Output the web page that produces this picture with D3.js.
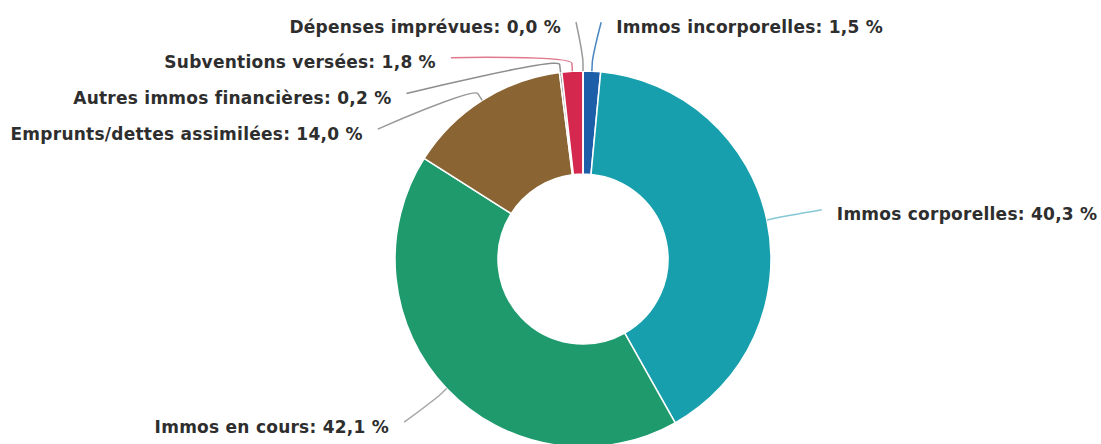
<!DOCTYPE html>
<html><head><meta charset="utf-8">
<script src="https://cdn.jsdelivr.net/npm/d3@7"></script>
<style>html,body{margin:0;padding:0;background:#fff;overflow:hidden}</style>
</head><body>
<svg id="chart" width="1101" height="444"></svg>
<script>
const categories = ["Immos incorporelles","Immos corporelles","Immos en cours","Emprunts/dettes assimilées","Autres immos financières","Subventions versées","Dépenses imprévues"];
const values = [1.5, 40.3, 42.1, 14.0, 0.2, 1.8, 0.0];
const sliceColors = ["#1d5ea8","#189fae","#1e9a6d","#8a6533","#8c8c8c","#d4284e","#9a9a9a"];
const connectorColors = ["#4a86c0","#86c8d6","#a8a8a8","#9a9a9a","#8e8e8e","#e0788c","#9a9a9a"];

const W = 1101, H = 444;
const cx = 583, cy = 259, rOuter = 188, rInner = 85;
const labelR = 237, spacing = 35.7, textGap = 22, lineGap = 7;

const svg = d3.select("#chart");
const pie = d3.pie().sort(null).value(d => d);
const arcs = pie(values);
const arc = d3.arc().innerRadius(rInner).outerRadius(rOuter);

const g = svg.append("g").attr("transform", `translate(${cx},${cy})`);
g.selectAll("path.slice").data(arcs).join("path")
  .attr("class", "slice")
  .attr("d", arc)
  .attr("fill", (d, i) => sliceColors[i])
  .attr("stroke", "#fff")
  .attr("stroke-width", 1.5)
  .attr("stroke-linejoin", "round");

// label layout
const items = arcs.map((d, i) => {
  const mid = (d.startAngle + d.endAngle) / 2;
  return {
    i, mid,
    side: mid > Math.PI ? "left" : "right",
    idealY: cy - labelR * Math.cos(mid)
  };
});
["left", "right"].forEach(side => {
  const list = items.filter(it => it.side === side).sort((a, b) => a.idealY - b.idealY);
  let prev = -Infinity;
  list.forEach(it => {
    it.y = Math.max(it.idealY, prev + spacing, cy - labelR);
    prev = it.y;
  });
});
items.forEach(it => {
  const dy = it.y - cy;
  const off = Math.sqrt(Math.max(0, labelR * labelR - dy * dy));
  const s = it.side === "left" ? -1 : 1;
  it.x = cx + s * off;
  it.s = s;
});

const fmt = v => v.toFixed(1).replace(".", ",") + " %";

const lg = svg.append("g");
items.forEach(it => {
  const ax = cx + rOuter * Math.sin(it.mid), ay = cy - rOuter * Math.cos(it.mid);
  const bx = cx + (rOuter + 8) * Math.sin(it.mid), by = cy - (rOuter + 8) * Math.cos(it.mid);
  const sx = it.x + it.s * lineGap, sy = it.y;
  const p = d3.path();
  p.moveTo(sx, sy);
  p.bezierCurveTo(sx, sy, 2 * bx - ax, 2 * by - ay, bx, by);
  p.lineTo(ax, ay);
  lg.append("path").attr("d", p.toString())
    .attr("fill", "none")
    .attr("stroke", connectorColors[it.i])
    .attr("stroke-width", 1.5);
  lg.append("text")
    .attr("x", it.x + it.s * textGap)
    .attr("y", it.y + 10.5)
    .attr("text-anchor", it.side === "left" ? "end" : "start")
    .attr("font-family", "DejaVu Sans")
    .attr("font-weight", "bold")
    .attr("font-size", "17px")
    .attr("letter-spacing", "0.25px")
    .attr("fill", "#2e2e2e")
    .text(`${categories[it.i]}: ${fmt(values[it.i])}`);
});
</script>
</body></html>
